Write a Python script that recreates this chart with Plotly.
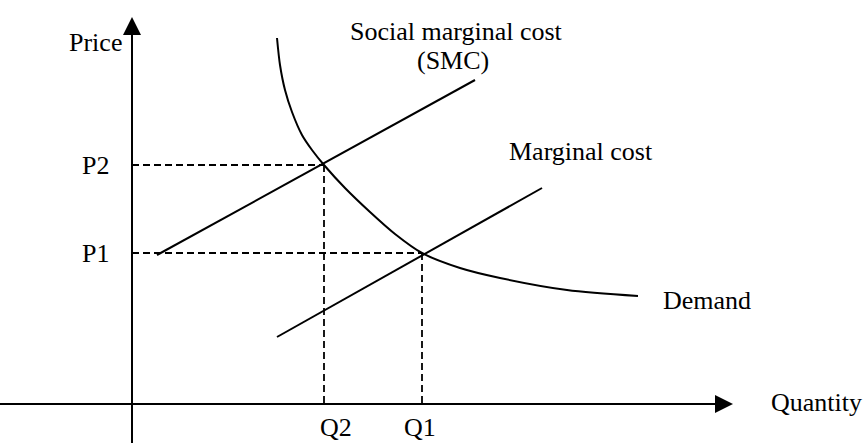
import plotly.graph_objects as go

# Diagram units (1 unit ~ 10 px); origin at the axes crossing
demand_q = [14.5, 14.8, 15.3, 16.0, 17.0, 18.0, 19.2, 21.3, 23.8, 26.3, 29.0, 32.8, 36.8, 43.5, 50.6]
demand_p = [36.6, 33.9, 31.4, 29.2, 26.9, 25.4, 23.9, 21.6, 19.2, 17.0, 15.1, 13.6, 12.6, 11.4, 10.8]

smc_q = [2.5, 34.3]
smc_p = [14.9, 32.4]

mc_q = [14.5, 41.0]
mc_p = [6.7, 21.6]

q_equil = {"Q2": 19.2, "Q1": 29.0}
p_equil = {"P2": 23.9, "P1": 15.1}

FONT = dict(family="Liberation Serif, Times New Roman, serif", size=26, color="black")
X_RANGE = [-13.2, 73.4]
Y_RANGE = [-3.9, 40.4]

fig = go.Figure()

line_style = dict(color="black", width=2)
fig.add_trace(go.Scatter(x=demand_q, y=demand_p, mode="lines",
                         line=dict(**line_style, shape="spline", smoothing=0.8)))
fig.add_trace(go.Scatter(x=smc_q, y=smc_p, mode="lines", line=line_style))
fig.add_trace(go.Scatter(x=mc_q, y=mc_p, mode="lines", line=line_style))

dash = dict(color="black", width=1.8, dash="7px,4px")
for (pk, pv), (qk, qv) in zip(p_equil.items(), q_equil.items()):
    fig.add_trace(go.Scatter(x=[0, qv], y=[pv, pv], mode="lines", line=dash))
    fig.add_trace(go.Scatter(x=[qv, qv], y=[pv, 0], mode="lines", line=dash))

annotations = []
# axes with arrows
annotations.append(dict(x=0, y=38.7, ax=0, ay=Y_RANGE[0] - 1, xref="x", yref="y", axref="x", ayref="y",
                        showarrow=True, arrowhead=2, arrowsize=1.8, arrowwidth=2, arrowcolor="black", text=""))
annotations.append(dict(x=60.1, y=0, ax=X_RANGE[0] - 1, ay=0, xref="x", yref="y", axref="x", ayref="y",
                        showarrow=True, arrowhead=2, arrowsize=1.8, arrowwidth=2, arrowcolor="black", text=""))


def label(text, x, y, xanchor="center", yanchor="middle"):
    annotations.append(dict(x=x, y=y, xref="x", yref="y", text=text, showarrow=False,
                            font=FONT, xanchor=xanchor, yanchor=yanchor, borderpad=0))


label("Price", -0.9, 36.2, xanchor="right")
label("Quantity", 68.4, 0.2)
label("Social marginal cost", 32.4, 37.3)
label("(SMC)", 32.1, 34.4)
label("Marginal cost", 44.9, 25.3)
label("Demand", 57.5, 10.4)
for pk, pv in p_equil.items():
    label(pk, -2.2, pv, xanchor="right")
label("Q2", q_equil["Q2"] + 1.2, Y_RANGE[0] + 0.05, yanchor="bottom")
label("Q1", q_equil["Q1"] - 0.2, Y_RANGE[0] + 0.05, yanchor="bottom")

fig.update_layout(
    width=866, height=443,
    margin=dict(l=0, r=0, t=0, b=0),
    paper_bgcolor="white", plot_bgcolor="white",
    showlegend=False,
    hovermode=False,
    xaxis=dict(range=X_RANGE, visible=False, fixedrange=True),
    yaxis=dict(range=Y_RANGE, visible=False, fixedrange=True),
    annotations=annotations,
)

fig.write_html("out.html", config={"displayModeBar": False},
               post_script="document.body.style.margin='0';")
